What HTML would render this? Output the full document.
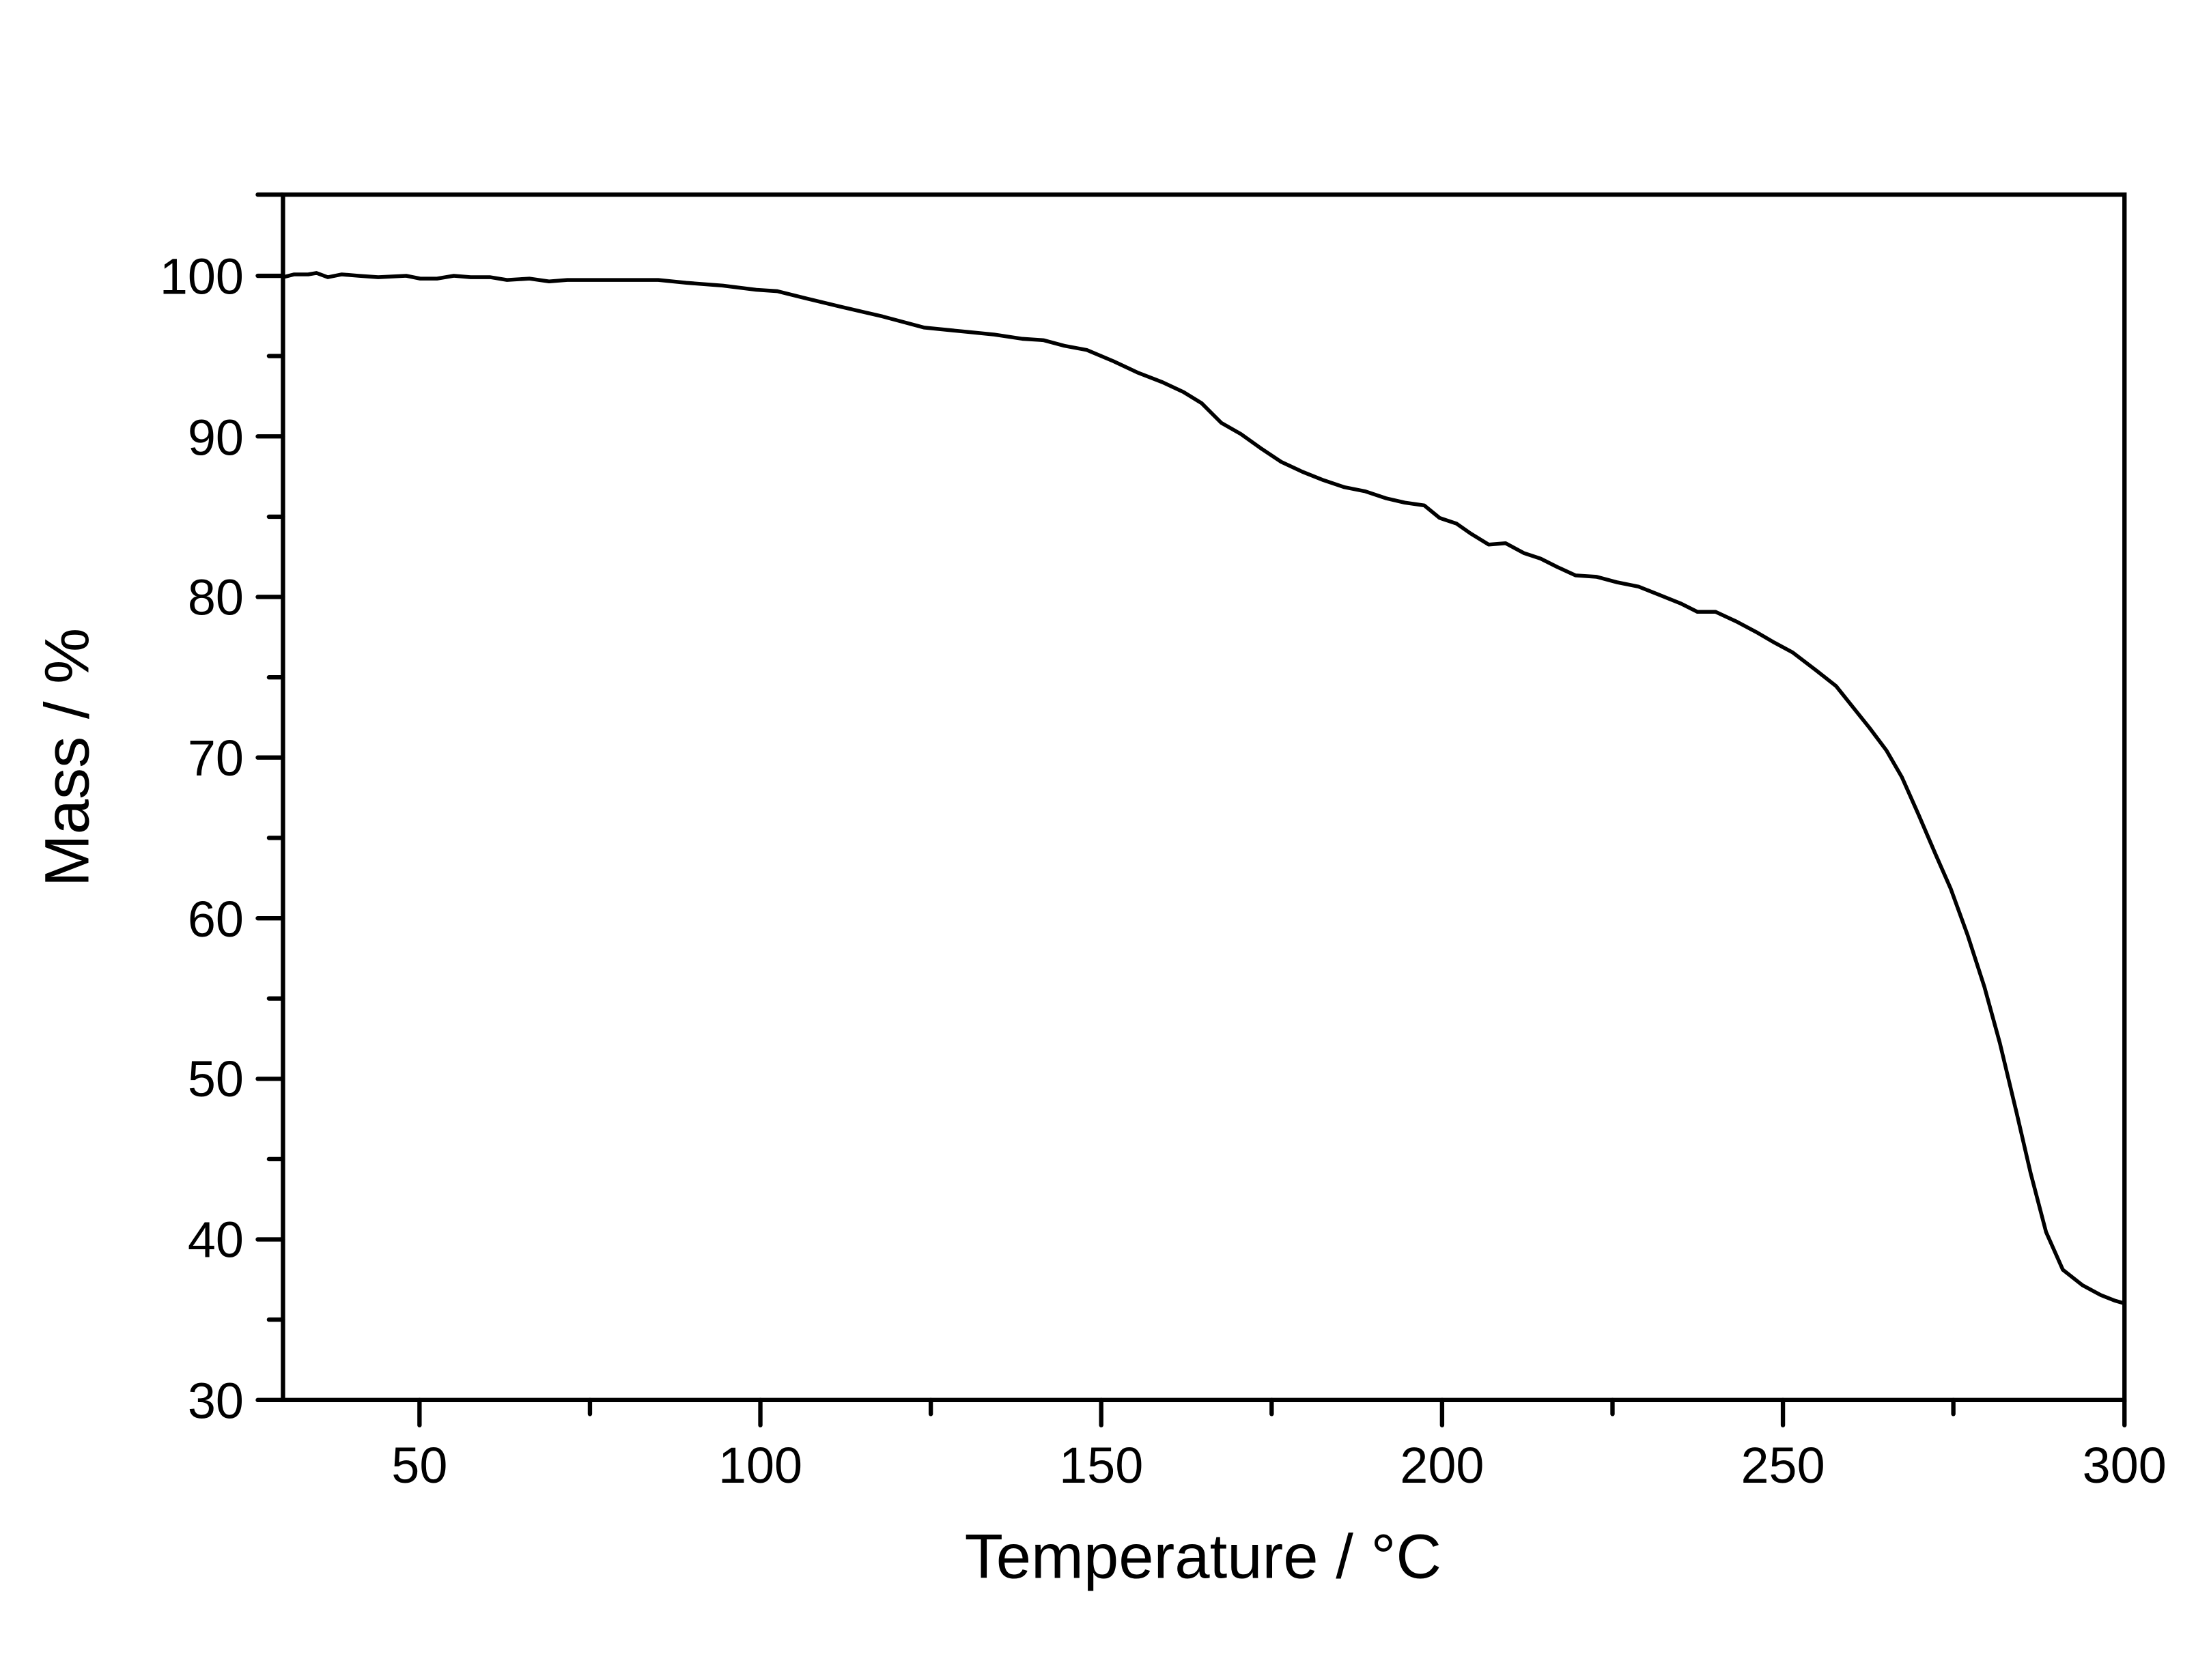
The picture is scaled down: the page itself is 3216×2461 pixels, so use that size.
<!DOCTYPE html>
<html><head><meta charset="utf-8"><style>html,body{margin:0;padding:0;background:#fff}svg{display:block}</style></head>
<body>
<svg width="3216" height="2461" viewBox="0 0 1568 1200" xmlns="http://www.w3.org/2000/svg" font-family="Liberation Sans, Arial, sans-serif">
<rect width="1568" height="1200" fill="#fff"/>
<g stroke="#000" stroke-width="3.1" fill="none" stroke-linecap="round">
<rect x="202" y="139" width="1315" height="861"/>
<path d="M184 1000H202M184 885.3H202M184 770.6H202M184 655.9H202M184 541.1H202M184 426.4H202M184 311.7H202M184 197H202M184 139H202"/>
<path d="M192 942.6H202M192 827.9H202M192 713.2H202M192 598.5H202M192 483.8H202M192 369.1H202M192 254.3H202"/>
<path d="M299.5 1000V1018M542.9 1000V1018M786.3 1000V1018M1029.7 1000V1018M1273.1 1000V1018M1517 1000V1018"/>
<path d="M421.2 1000V1010M664.6 1000V1010M908 1000V1010M1151.4 1000V1010M1394.8 1000V1010"/>
</g>
<polyline fill="none" stroke="#000" stroke-width="2.7" stroke-linejoin="round" points="202,198 210,196 220,196 226,195 234,198 244,196 256,197 270,198 290,197 300,199 312,199 324,197 336,198 350,198 362,200 378,199 392,201 405,200 430,200 470,200 490,202 516,204 540,207 555,208 575,213 600,219 630,226 660,234 690,237 710,239 730,242 745,243 760,247 776,250 795,258 812,266 830,273 845,280 858,288 872,302 886,310 900,320 915,330 930,337 945,343 960,348 975,351 990,356 1003,359 1017,361 1028,370 1040,374 1050,381 1063,389 1075,388 1088,395 1100,399 1112,405 1125,411 1140,412 1155,416 1170,419 1185,425 1200,431 1212,437 1225,437 1240,444 1255,452 1267,459 1280,466 1297,479 1311,490 1323,505 1335,520 1347,536 1358,555 1370,582 1382,610 1393,635 1405,668 1417,705 1428,745 1440,795 1450,838 1461,880 1473,907 1487,918 1500,925 1510,929 1517,931"/>
<g font-size="36" text-anchor="end" fill="#000">
<text x="174" y="1013">30</text><text x="174" y="898">40</text><text x="174" y="783">50</text><text x="174" y="669">60</text><text x="174" y="554">70</text><text x="174" y="439">80</text><text x="174" y="325">90</text><text x="174" y="210">100</text>
</g>
<g font-size="36" text-anchor="middle" fill="#000">
<text x="299.5" y="1059">50</text><text x="542.9" y="1059">100</text><text x="786.3" y="1059">150</text><text x="1029.7" y="1059">200</text><text x="1273.1" y="1059">250</text><text x="1517" y="1059">300</text>
</g>
<text x="859" y="1127" font-size="45" text-anchor="middle">Temperature / °C</text>
<text transform="translate(63,541) rotate(-90)" font-size="45" text-anchor="middle">Mass / %</text>
</svg>
</body></html>
